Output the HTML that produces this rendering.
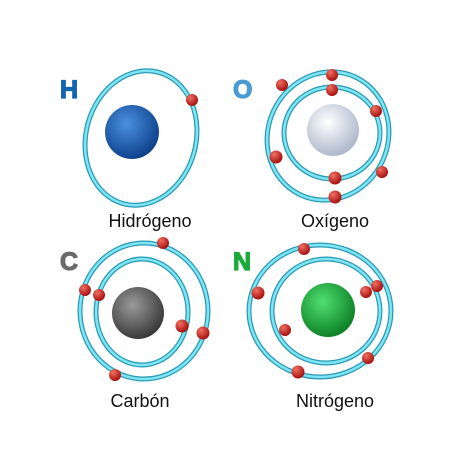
<!DOCTYPE html>
<html><head><meta charset="utf-8"><style>
body{margin:0;background:#fff}
svg{display:block}
text{font-family:"Liberation Sans",sans-serif}
</style></head><body>
<svg width="460" height="460" viewBox="0 0 460 460">
<defs>
<radialGradient id="gb" cx="0.4" cy="0.35" r="0.7"><stop offset="0" stop-color="#4a90e0"/><stop offset="1" stop-color="#0a3c86"/></radialGradient>
<radialGradient id="gw" cx="0.4" cy="0.35" r="0.7"><stop offset="0" stop-color="#ffffff"/><stop offset="1" stop-color="#a8b4c8"/></radialGradient>
<radialGradient id="gg" cx="0.4" cy="0.35" r="0.7"><stop offset="0" stop-color="#9a9a9a"/><stop offset="1" stop-color="#333"/></radialGradient>
<radialGradient id="gn" cx="0.4" cy="0.35" r="0.7"><stop offset="0" stop-color="#4fe070"/><stop offset="1" stop-color="#0a7a22"/></radialGradient>
<radialGradient id="gr" cx="0.35" cy="0.3" r="0.7"><stop offset="0" stop-color="#f07060"/><stop offset="1" stop-color="#a81010"/></radialGradient>
</defs>
<g>
<text x="60" y="98" font-size="25" font-weight="bold" fill="#1464b4" stroke="#1464b4" stroke-width="1.2">H</text>
<ellipse cx="141" cy="138" rx="55" ry="68" transform="rotate(15 141 138)" fill="none" stroke="#2a9ab4" stroke-width="5"/>
<ellipse cx="141" cy="138" rx="55" ry="68" transform="rotate(15 141 138)" fill="none" stroke="#7fe4f4" stroke-width="2.5"/>
<circle cx="132" cy="132" r="27" fill="url(#gb)"/>
<circle cx="192" cy="100" r="6" fill="url(#gr)"/>
<text x="150" y="227" font-size="18" text-anchor="middle" fill="#111">Hidrógeno</text>
</g>
<g>
<text x="233" y="98" font-size="25" font-weight="bold" fill="#4a9ad4" stroke="#4a9ad4" stroke-width="1.2">O</text>
<ellipse cx="328" cy="136" rx="60" ry="65" transform="rotate(25 328 136)" fill="none" stroke="#2a9ab4" stroke-width="5"/>
<ellipse cx="328" cy="136" rx="60" ry="65" transform="rotate(25 328 136)" fill="none" stroke="#7fe4f4" stroke-width="2.5"/>
<ellipse cx="332" cy="133" rx="48" ry="46" fill="none" stroke="#2a9ab4" stroke-width="5"/>
<ellipse cx="332" cy="133" rx="48" ry="46" fill="none" stroke="#7fe4f4" stroke-width="2.5"/>
<circle cx="333" cy="130" r="26" fill="url(#gw)"/>
<g fill="url(#gr)">
<circle cx="332" cy="75" r="6"/><circle cx="282" cy="85" r="6"/><circle cx="376" cy="111" r="6"/><circle cx="276" cy="157" r="6.5"/><circle cx="382" cy="172" r="6"/><circle cx="335" cy="197" r="6.5"/><circle cx="335" cy="178" r="6.5"/><circle cx="332" cy="90" r="6"/>
</g>
<text x="335" y="227" font-size="18" text-anchor="middle" fill="#111">Oxígeno</text>
</g>
<g>
<text x="60" y="270" font-size="25" font-weight="bold" fill="#6a6a6a" stroke="#6a6a6a" stroke-width="1.2">C</text>
<ellipse cx="144" cy="311" rx="64" ry="68" fill="none" stroke="#2a9ab4" stroke-width="5"/>
<ellipse cx="144" cy="311" rx="64" ry="68" fill="none" stroke="#7fe4f4" stroke-width="2.5"/>
<ellipse cx="142" cy="312" rx="46" ry="53" fill="none" stroke="#2a9ab4" stroke-width="5"/>
<ellipse cx="142" cy="312" rx="46" ry="53" fill="none" stroke="#7fe4f4" stroke-width="2.5"/>
<circle cx="138" cy="313" r="26" fill="url(#gg)"/>
<g fill="url(#gr)">
<circle cx="163" cy="243" r="6"/><circle cx="85" cy="290" r="6"/><circle cx="99" cy="295" r="6"/><circle cx="182" cy="326" r="6.5"/><circle cx="203" cy="333" r="6.5"/><circle cx="115" cy="375" r="6"/>
</g>
<text x="140" y="407" font-size="18" text-anchor="middle" fill="#111">Carbón</text>
</g>
<g>
<text x="233" y="270" font-size="25" font-weight="bold" fill="#1aaa3a" stroke="#1aaa3a" stroke-width="1.2">N</text>
<ellipse cx="320" cy="311" rx="71" ry="66" fill="none" stroke="#2a9ab4" stroke-width="5"/>
<ellipse cx="320" cy="311" rx="71" ry="66" fill="none" stroke="#7fe4f4" stroke-width="2.5"/>
<ellipse cx="326" cy="311" rx="54" ry="52" fill="none" stroke="#2a9ab4" stroke-width="5"/>
<ellipse cx="326" cy="311" rx="54" ry="52" fill="none" stroke="#7fe4f4" stroke-width="2.5"/>
<circle cx="328" cy="310" r="27" fill="url(#gn)"/>
<g fill="url(#gr)">
<circle cx="304" cy="249" r="6"/><circle cx="258" cy="293" r="6.5"/><circle cx="366" cy="292" r="6"/><circle cx="377" cy="286" r="6"/><circle cx="285" cy="330" r="6"/><circle cx="368" cy="358" r="6"/><circle cx="298" cy="372" r="6.5"/>
</g>
<text x="335" y="407" font-size="18" text-anchor="middle" fill="#111">Nitrógeno</text>
</g>
</svg>
</body></html>
